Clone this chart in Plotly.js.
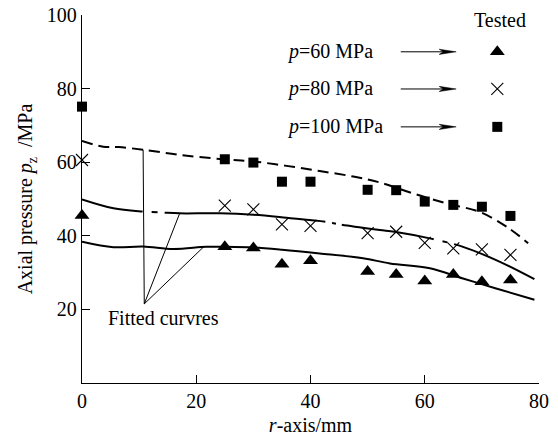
<!DOCTYPE html>
<html>
<head>
<meta charset="utf-8">
<script src="https://cdn.plot.ly/plotly-3.0.1.min.js"></script>
<style>html,body{margin:0;padding:0;background:#fff;}#chart{width:558px;height:441px;}</style>
</head>
<body>
<div id="chart"></div>
<script>
// Tested data
const rTested = [0, 25, 30, 35, 40, 50, 55, 60, 65, 70, 75];
const tested60 = [45.5, 37, 36.7, 32.3, 33.2, 30.3, 29.5, 27.7, 29.5, 27.5, 28];
const tested80 = [60.6, 48.2, 47.2, 43.1, 42.7, 40.7, 41.1, 38.1, 36.6, 36.3, 34.8];
const tested100 = [75.1, 60.8, 59.9, 54.7, 54.7, 52.5, 52.4, 49.3, 48.4, 47.9, 45.4];

// Fitted curves
const fitR100 = [0, 3.7, 6.4, 10.7, 17.1, 24.7, 30, 35.8, 41.6, 47.5, 52.1, 58, 63.8, 69.6, 74.3, 78.1];
const fit100 = [65.8, 64.2, 64.1, 63.4, 62, 60.8, 60.2, 59, 57.6, 56.1, 54.5, 51.5, 48.8, 46.5, 42.5, 38];
const fitR80 = [0, 5.5, 10.7, 14.2, 17.1, 24.1, 30, 35.8, 42.8, 45.1, 52.1, 54.7, 60.9, 66.7, 72.5, 79.2];
const fit80 = [49.9, 47.5, 46.6, 46.3, 46.1, 46.1, 45.7, 44.9, 43.8, 43.1, 41.6, 41.1, 39.3, 37, 33.4, 28.2];
const fitR60 = [0, 5.5, 10.7, 16, 21.8, 25.3, 30, 35, 41.6, 49.2, 53.9, 60.9, 66.7, 72.5, 79.2];
const fit60 = [38.4, 36.9, 37.1, 36.4, 37, 37, 36.8, 36.2, 35.2, 33.9, 32.5, 31.2, 28.4, 25.7, 22.6];

// Labels
const seriesLabels = ["<i>p</i>=60 MPa", "<i>p</i>=80 MPa", "<i>p</i>=100 MPa"];
const xTicks = [0, 20, 40, 60, 80];
const yTicks = [20, 40, 60, 80, 100];

const FONT = "Liberation Serif, Times New Roman, serif";
const black = "#000";

const mk60 = {symbol: "triangle-up", size: 13, color: black};
const mk80 = {symbol: "x-thin-open", size: 12, color: black, line: {width: 1.1, color: black}};
const mk100 = {symbol: "square", size: 10, color: black};

const traces = [
  {x: fitR100, y: fit100, mode: "lines", line: {color: black, width: 2, dash: "11px,6px", shape: "spline"}},
  {x: fitR80, y: fit80, mode: "lines", line: {color: black, width: 2, shape: "spline",
    dash: "62px,9px,6px,7px,161px,7px,4px,6px,93px,9px,5px,7px,300px"}},
  {x: fitR60, y: fit60, mode: "lines", line: {color: black, width: 2, shape: "spline"}},
  {x: rTested, y: tested60, mode: "markers", marker: mk60, cliponaxis: false},
  {x: rTested, y: tested80, mode: "markers", marker: mk80, cliponaxis: false},
  {x: rTested, y: tested100, mode: "markers", marker: mk100, cliponaxis: false}
];

// legend-like key: text -> arrow -> marker
const keyY = [90, 79.9, 69.6];
const keyMarkers = [mk60, mk80, mk100];
keyMarkers.forEach((m, i) => {
  traces.push({x: [72.7], y: [keyY[i]], mode: "markers", marker: m, cliponaxis: false});
});

const annotations = [
  {x: 73.1, y: 98.6, xref: "x", yref: "y", text: "Tested", showarrow: false,
   font: {family: FONT, size: 20, color: black}, xanchor: "center", yanchor: "middle"},
  {x: 14.3, y: 17.6, xref: "x", yref: "y", text: "Fitted curvres", showarrow: false,
   font: {family: FONT, size: 20, color: black}, xanchor: "center", yanchor: "middle"}
];

// pointer lines for "Fitted curves"
const apex = [10.9, 21.5];
const pointerEnds = [[10.7, 63.4], [17.1, 46.1], [21.3, 37]];
const shapes = pointerEnds.map(p => ({type: "line", xref: "x", yref: "y",
  x0: apex[0], y0: apex[1], x1: p[0], y1: p[1], line: {color: black, width: 1}}));

const arrowFrom = 55.8, arrowTo = 65.5;
seriesLabels.forEach((t, i) => {
  annotations.push({x: 35.5, y: keyY[i], xref: "x", yref: "y", text: t, showarrow: false,
    font: {family: FONT, size: 20, color: black}, xanchor: "left", yanchor: "middle"});
  shapes.push({type: "line", xref: "x", yref: "y", x0: arrowFrom, y0: keyY[i],
    x1: arrowTo - 1.5, y1: keyY[i], line: {color: black, width: 1}});
  shapes.push({type: "path", xref: "x", yref: "y", xsizemode: "pixel", ysizemode: "pixel",
    xanchor: arrowTo, yanchor: keyY[i], path: "M-17,-2.6 L0,0 L-17,2.6 L-13,0 Z",
    fillcolor: black, line: {color: black, width: 0.5}});
});

const layout = {
  width: 558, height: 441,
  margin: {l: 82, r: 19, t: 15, b: 58},
  paper_bgcolor: "#fff", plot_bgcolor: "#fff",
  showlegend: false,
  font: {family: FONT, size: 20, color: black},
  xaxis: {range: [0, 80], tickvals: xTicks, ticks: "inside", ticklen: 8, tickwidth: 1,
    tickcolor: black, showline: true, linecolor: black, linewidth: 1.3, showgrid: false,
    zeroline: false, tickfont: {family: FONT, size: 20, color: black},
    title: {text: "<i>r</i>-axis/mm", font: {family: FONT, size: 20, color: black}, standoff: 6}},
  yaxis: {range: [0, 100], tickvals: yTicks, ticks: "inside", ticklen: 8, tickwidth: 1,
    tickcolor: black, showline: true, linecolor: black, linewidth: 1.3, showgrid: false,
    zeroline: false, tickfont: {family: FONT, size: 20, color: black},
    title: {text: "Axial pressure <i>p</i><sub>z</sub>  /MPa", font: {family: FONT, size: 20, color: black}, standoff: 8}},
  annotations: annotations,
  shapes: shapes
};

Plotly.newPlot("chart", traces, layout, {staticPlot: true, displayModeBar: false});
</script>
</body>
</html>
